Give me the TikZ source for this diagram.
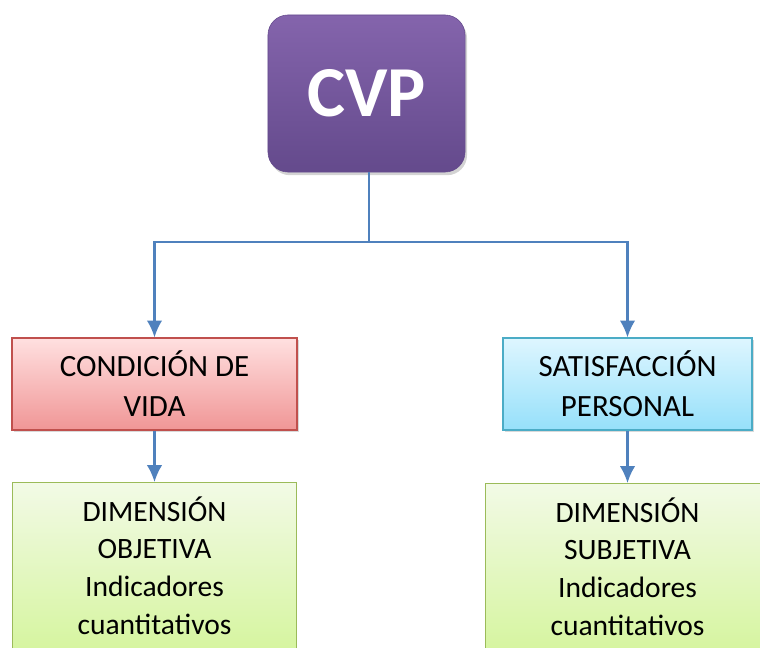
\documentclass[tikz,border=0pt]{standalone}
\usepackage{fontspec}
\setmainfont{Carlito}
\usepackage{xcolor}
\usepackage{tikz}
\usetikzlibrary{shapes,arrows.meta,shadows}
\definecolor{cvpTop}{RGB}{132,100,172}
\definecolor{cvpBot}{RGB}{100,74,140}
\definecolor{redTop}{RGB}{255,224,224}
\definecolor{redBot}{RGB}{240,150,150}
\definecolor{redLine}{RGB}{192,80,77}
\definecolor{blueTop}{RGB}{222,246,255}
\definecolor{blueBot}{RGB}{150,224,250}
\definecolor{blueLine}{RGB}{75,172,198}
\definecolor{greenTop}{RGB}{242,250,230}
\definecolor{greenBot}{RGB}{214,245,160}
\definecolor{greenLine}{RGB}{155,187,89}
\definecolor{arrowBlue}{RGB}{79,129,189}
\tikzstyle{cvpbox} = [rectangle, rounded corners=0.5cm, top color=cvpTop, bottom color=cvpBot,
    draw=cvpBot, minimum width=4.925cm, minimum height=3.925cm, text=white,
    font=\fontsize{51}{55}\selectfont\bfseries, drop shadow={opacity=0.35,shadow xshift=0.05cm,shadow yshift=-0.08cm}]
\tikzstyle{block} = [rectangle, draw, line width=0.8pt, text centered, align=center, minimum height=2.3cm,
    font=\fontsize{22}{28.5}\selectfont, drop shadow={opacity=0.3,shadow xshift=0.04cm,shadow yshift=-0.06cm}]
\tikzstyle{condblock} = [block, top color=redTop, bottom color=redBot, draw=redLine, minimum width=7.125cm]
\tikzstyle{satblock} = [block, top color=blueTop, bottom color=blueBot, draw=blueLine, minimum width=6.225cm]
\tikzstyle{dimblock} = [rectangle, draw=greenLine, line width=0.8pt, top color=greenTop, bottom color=greenBot,
    text centered, align=center, anchor=north, minimum height=4.15cm, minimum width=7.1cm,
    font=\fontsize{21}{26.8}\selectfont]
\tikzstyle{connector} = [draw=arrowBlue, line width=1.5pt]
\tikzstyle{arrowline} = [connector, -{Latex[length=12pt,width=11pt]}]

\begin{document}
\begin{tikzpicture}[x=0.025cm,y=-0.025cm]
  \useasboundingbox (0,0) rectangle (760,648);
  \clip (0,0) rectangle (760,648);

  \node [cvpbox] (cvp) at (366.5,93.5) {CVP};
  \node [condblock] (condicion) at (154.5,384) {CONDICIÓN DE\\VIDA};
  \node [satblock] (satisfaccion) at (627.5,384) {SATISFACCIÓN\\PERSONAL};
  \node [dimblock] (objetiva) at (154.5,482) {DIMENSIÓN\\OBJETIVA\\Indicadores\\cuantitativos};
  \node [dimblock] (subjetiva) at (627.5,483) {DIMENSIÓN\\SUBJETIVA\\Indicadores\\cuantitativos};

  \coordinate (bus) at (369,242);

  \path [connector] (bus |- cvp.south) -- (bus);
  \path [arrowline] (bus) -| (condicion.north);
  \path [arrowline] (bus) -| (satisfaccion.north);
  \path [arrowline] (condicion) -- (objetiva);
  \path [arrowline] (satisfaccion) -- (subjetiva);

\end{tikzpicture}
\end{document}
